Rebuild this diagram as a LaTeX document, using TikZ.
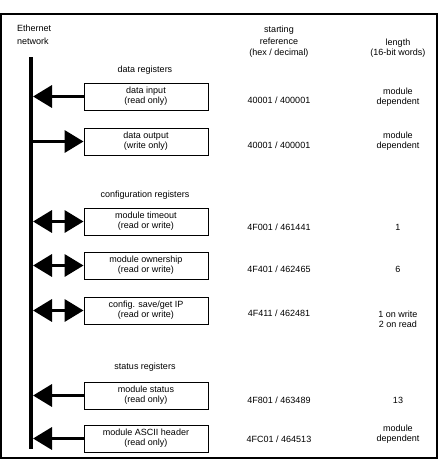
\documentclass[tikz,border=0pt]{standalone}
\usepackage{fontspec}
\setmainfont{Liberation Sans}
\usetikzlibrary{arrows.meta}
\begin{document}
\begin{tikzpicture}[x=1pt,y=-1pt,
  txt/.style={font=\fontsize{9}{10}\selectfont, inner sep=0pt, align=center},
  hdr/.style={font=\fontsize{9}{11.5}\selectfont, inner sep=0pt, align=center},
  reg/.style={draw, line width=0.9pt, minimum width=124pt, minimum height=27pt, inner sep=0pt, font=\fontsize{9}{10}\selectfont, align=center},
  bus/.style={line width=4pt},
  rd/.style={line width=3.5pt, -{Triangle[length=19pt,width=22pt]}},
  rw/.style={line width=3.5pt, {Triangle[length=19pt,width=22pt]}-{Triangle[length=19pt,width=22pt]}}]
\useasboundingbox (0,0) rectangle (440,464);
\draw[line width=1.2pt] (1,14) rectangle (437,458);
% headers
\node[hdr, anchor=west, align=left, font=\fontsize{9}{13.5}\selectfont] (eth) at (17,35) {Ethernet\\network};
\node[hdr] (start) at (279,42) {starting\\reference\\(hex / decimal)};
\node[hdr, font=\fontsize{9}{10.5}\selectfont] (len) at (398,48) {length\\(16-bit words)};
% bus
\coordinate (bustop) at (31,57);
\coordinate (busbot) at (31,449);
\draw[bus] (bustop) -- (busbot);
% section titles
\node[txt] (t1) at (145,70) {data registers};
\node[txt] (t2) at (145,195) {configuration registers};
\node[txt] (t3) at (145,367) {status registers};
% boxes
\node[reg] (din) at (146,96.5) {data input\\(read only)};
\node[reg] (dout) at (146,141.5) {data output\\(write only)};
\node[reg] (tmo) at (146,221.5) {module timeout\\(read or write)};
\node[reg] (own) at (146,265.5) {module ownership\\(read or write)};
\node[reg] (cfg) at (146,310.5) {config. save/get IP\\(read or write)};
\node[reg] (sts) at (146,395.5) {module status\\(read only)};
\node[reg] (asc) at (146,438.5) {module ASCII header\\(read only)};
% bus points
\coordinate (b1) at (33,96.5);
\coordinate (b2) at (33,141.5);
\coordinate (b3) at (33,221.5);
\coordinate (b4) at (33,265.5);
\coordinate (b5) at (33,310.5);
\coordinate (b6) at (33,395.5);
\coordinate (b7) at (33,438.5);
% connectors
\draw[rd] (din.west) -- (b1);
\draw[rd] (b2) -- (dout.west);
\draw[rw] (b3) -- (tmo.west);
\draw[rw] (b4) -- (own.west);
\draw[rw] (b5) -- (cfg.west);
\draw[rd] (sts.west) -- (b6);
\draw[rd] (asc.west) -- (b7);
% addresses
\node[txt] (a1) at (279,100) {40001 / 400001};
\node[txt] (a2) at (279,145) {40001 / 400001};
\node[txt] (a3) at (279,227) {4F001 / 461441};
\node[txt] (a4) at (279,269) {4F401 / 462465};
\node[txt] (a5) at (279,313) {4F411 / 462481};
\node[txt] (a6) at (279,400) {4F801 / 463489};
\node[txt] (a7) at (279,439) {4FC01 / 464513};
% lengths
\node[txt] (l1) at (398,97) {module\\dependent};
\node[txt] (l2) at (398,141) {module\\dependent};
\node[txt] (l3) at (398,227) {1};
\node[txt] (l4) at (398,269) {6};
\node[txt] (l5) at (398,319) {1 on write\\2 on read};
\node[txt] (l6) at (398,400) {13};
\node[txt] (l7) at (398,434) {module\\dependent};
\end{tikzpicture}
\end{document}
